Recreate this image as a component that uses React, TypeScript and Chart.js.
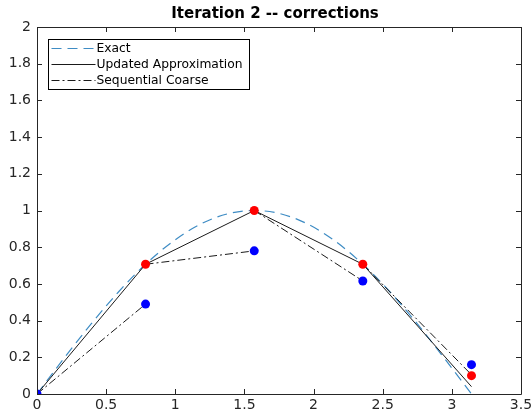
import React, { useEffect, useRef } from "react";
import { Chart, registerables } from "chart.js";

Chart.register(...registerables);

const TITLE = "Iteration 2 -- corrections";
const LEGEND_LABELS = ["Exact", "Updated Approximation", "Sequential Coarse"];

const X_MIN = 0;
const X_MAX = 3.5;
const X_STEP = 0.5;
const Y_MIN = 0;
const Y_MAX = 2;
const Y_STEP = 0.2;

// Exact solution curve
const exactX = [0, 0.196, 0.393, 0.589, 0.785, 0.982, 1.178, 1.374, 1.571, 1.767, 1.963, 2.16, 2.356, 2.553, 2.749, 2.945, 3.142];
const exactY = [0, 0.195, 0.383, 0.556, 0.707, 0.831, 0.924, 0.981, 1.0, 0.981, 0.924, 0.831, 0.707, 0.556, 0.383, 0.195, 0];

// Updated approximation (solid line)
const updatedX = [0, 0.785, 1.571, 2.356, 3.142];
const updatedY = [0, 0.707, 1.0, 0.707, 0.04];

// Corrected values (red markers)
const correctedX = [0.785, 1.571, 2.356, 3.142];
const correctedY = [0.707, 1.0, 0.707, 0.1];

// Coarse predictions (blue markers)
const coarseX = [0, 0.785, 1.571, 2.356, 3.142];
const coarseY = [0, 0.49, 0.78, 0.616, 0.16];

// Sequential coarse segments (dash-dot)
const seqStartX = [0, 0.785, 1.571, 2.356];
const seqStartY = [0, 0.707, 1.0, 0.707];
const seqEndX = [0.785, 1.571, 2.356, 3.142];
const seqEndY = [0.49, 0.78, 0.616, 0.105];

const AXIS_COLOR = "#262626";
const EXACT_COLOR = "rgb(62,140,196)";
const FONT = "'DejaVu Sans', sans-serif";

const zip = (xs: number[], ys: number[]) => xs.map((x, i) => ({ x, y: ys[i] }));
const fmt = (v: number | string) => String(Number(Number(v).toFixed(2)));

export default function App() {
  const ref = useRef<HTMLCanvasElement | null>(null);

  useEffect(() => {
    if (!ref.current) return;

    const seqData: { x: number; y: number | null }[] = [];
    seqStartX.forEach((_, i) => {
      seqData.push({ x: seqStartX[i], y: seqStartY[i] });
      seqData.push({ x: seqEndX[i], y: seqEndY[i] });
      seqData.push({ x: seqEndX[i], y: null });
    });

    const framePlugin = {
      id: "frame",
      afterDatasetsDraw(chart: any) {
        const { ctx, chartArea: a, scales } = chart;
        ctx.save();
        ctx.strokeStyle = AXIS_COLOR;
        ctx.lineWidth = 1;
        ctx.beginPath();
        ctx.rect(Math.round(a.left) + 0.5, Math.round(a.top) + 0.5, Math.round(a.right - a.left), Math.round(a.bottom - a.top));
        ctx.stroke();
        const tl = 5;
        ctx.beginPath();
        scales.x.ticks.forEach((t: any) => {
          const px = Math.round(scales.x.getPixelForValue(t.value)) + 0.5;
          ctx.moveTo(px, a.bottom);
          ctx.lineTo(px, a.bottom - tl);
          ctx.moveTo(px, a.top);
          ctx.lineTo(px, a.top + tl);
        });
        scales.y.ticks.forEach((t: any) => {
          const py = Math.round(scales.y.getPixelForValue(t.value)) + 0.5;
          ctx.moveTo(a.left, py);
          ctx.lineTo(a.left + tl, py);
          ctx.moveTo(a.right, py);
          ctx.lineTo(a.right - tl, py);
        });
        ctx.stroke();

        ctx.fillStyle = "#000";
        ctx.font = `bold 15px ${FONT}`;
        ctx.textAlign = "center";
        ctx.textBaseline = "middle";
        ctx.fillText(TITLE, (a.left + a.right) / 2 - 4, 14);

        const lx = a.left + 11.5;
        const ly = a.top + 12.5;
        const lw = 201;
        const lh = 50;
        ctx.fillStyle = "#fff";
        ctx.fillRect(lx, ly, lw, lh);
        ctx.strokeStyle = "#000";
        ctx.lineWidth = 1;
        ctx.strokeRect(lx, ly, lw, lh);
        const styles = [
          { color: EXACT_COLOR, dash: [10, 6], width: 1.2 },
          { color: "#1a1a1a", dash: [], width: 1 },
          { color: "#1a1a1a", dash: [8, 3, 2, 3], width: 1 },
        ];
        ctx.font = `12.3px ${FONT}`;
        ctx.textAlign = "left";
        ctx.textBaseline = "middle";
        LEGEND_LABELS.forEach((lab, i) => {
          const y = ly + 9 + i * 16;
          const s = styles[i];
          ctx.save();
          ctx.strokeStyle = s.color;
          ctx.lineWidth = s.width;
          ctx.setLineDash(s.dash);
          ctx.beginPath();
          ctx.moveTo(lx + 3, y);
          ctx.lineTo(lx + 47, y);
          ctx.stroke();
          ctx.restore();
          ctx.fillStyle = "#000";
          ctx.fillText(lab, lx + 48, y);
        });
        ctx.restore();
      },
    };

    const chart = new Chart(ref.current, {
      type: "scatter",
      data: {
        datasets: [
          {
            label: "coarse",
            data: zip(coarseX, coarseY),
            showLine: false,
            pointRadius: 4.5,
            pointBackgroundColor: "#0000ff",
            pointBorderColor: "#0000ff",
            pointBorderWidth: 0,
          },
          {
            label: "corrected",
            data: zip(correctedX, correctedY),
            showLine: false,
            pointRadius: 4.5,
            pointBackgroundColor: "#ff0000",
            pointBorderColor: "#ff0000",
            pointBorderWidth: 0,
          },
          {
            label: LEGEND_LABELS[2],
            data: seqData,
            showLine: true,
            spanGaps: false,
            borderColor: "#1a1a1a",
            borderWidth: 1,
            borderDash: [8, 3, 2, 3],
            pointRadius: 0,
          },
          {
            label: LEGEND_LABELS[1],
            data: zip(updatedX, updatedY),
            showLine: true,
            borderColor: "#1a1a1a",
            borderWidth: 1,
            pointRadius: 0,
          },
          {
            label: LEGEND_LABELS[0],
            data: zip(exactX, exactY),
            showLine: true,
            borderColor: EXACT_COLOR,
            borderWidth: 1.2,
            borderDash: [10, 6],
            tension: 0.4,
            cubicInterpolationMode: "monotone",
            pointRadius: 0,
          },
        ],
      },
      options: {
        responsive: false,
        animation: false,
        devicePixelRatio: 1,
        layout: { padding: { top: 27, right: 11, left: 0, bottom: 0 } },
        plugins: {
          legend: { display: false },
          tooltip: { enabled: false },
          title: { display: false },
        },
        scales: {
          x: {
            type: "linear",
            min: X_MIN,
            max: X_MAX,
            ticks: {
              stepSize: X_STEP,
              color: AXIS_COLOR,
              font: { family: FONT, size: 14 },
              padding: 3,
              maxRotation: 0,
              autoSkip: false,
              callback: (v: any) => fmt(v),
            },
            grid: { display: false, drawTicks: false },
            border: { display: false },
            afterFit: (s: any) => {
              s.height = 25;
              s.paddingLeft = 0;
              s.paddingRight = 0;
            },
          },
          y: {
            type: "linear",
            min: Y_MIN,
            max: Y_MAX,
            ticks: {
              stepSize: Y_STEP,
              color: AXIS_COLOR,
              font: { family: FONT, size: 14 },
              padding: 6,
              autoSkip: false,
              callback: (v: any) => fmt(v),
            },
            grid: { display: false, drawTicks: false },
            border: { display: false },
            afterFit: (s: any) => {
              s.width = 37;
              s.paddingTop = 0;
              s.paddingBottom = 0;
            },
          },
        },
      },
      plugins: [framePlugin],
    } as any);

    return () => chart.destroy();
  }, []);

  return (
    <div style={{ position: "absolute", left: 0, top: 0, width: 532, height: 419, background: "#fff" }}>
      <canvas ref={ref} width={532} height={419} />
    </div>
  );
}
